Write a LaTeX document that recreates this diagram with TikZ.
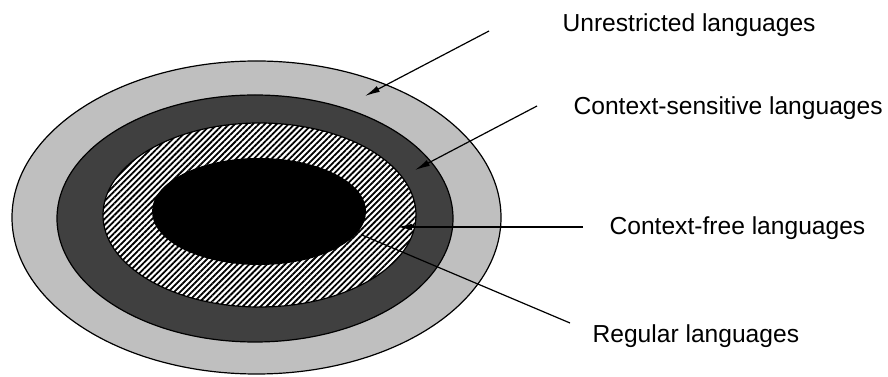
\documentclass[tikz,border=0pt]{standalone}
\usepackage{fontspec}
\setmainfont{Liberation Sans}
\usetikzlibrary{arrows.meta,patterns.meta}
\newcommand{\labelfont}{\fontsize{24.6}{29}\selectfont}

\begin{document}
\begin{tikzpicture}[x=1pt,y=1pt,line width=1.2pt,
  langlabel/.style={anchor=base west,inner sep=0pt,font=\labelfont},
  pointer/.style={-{Latex[length=15pt,width=6.5pt]}},
  hatched/.style={preaction={fill=white},pattern={Lines[angle=45,distance=4.2pt,line width=1.8pt]}}]
\useasboundingbox (0,0) rectangle (888,377);
% nested language classes
\draw[fill=black!25] (256.5,159.5) ellipse [x radius=244.5pt, y radius=156.5pt];
\draw[fill=black!75] (255,158.5) ellipse [x radius=198pt, y radius=123.5pt];
\draw[hatched] (259.5,162) ellipse [x radius=156.5pt, y radius=92pt];
\fill[black] (259,165.5) ellipse [x radius=107pt, y radius=53.5pt];
% labels
\node[langlabel] (unres) at (562,345) {Unrestricted languages};
\node[langlabel] (csens) at (573,262) {Context-sensitive languages};
\node[langlabel] (cfree) at (609,142) {Context-free languages};
\node[langlabel] (reg)   at (592,34)  {Regular languages};
\coordinate (unresfrom) at (489,346);
\coordinate (unresto)   at (365,281);
\coordinate (csensfrom) at (537,271);
\coordinate (csensto)   at (415,207);
\coordinate (cfreefrom) at (583,150);
\coordinate (cfreeto)   at (397,150);
\coordinate (regfrom)   at (362,142);
\coordinate (regto)     at (570,54);
\draw[pointer] (unresfrom) -- (unresto);
\draw[pointer] (csensfrom) -- (csensto);
\draw[pointer] (cfreefrom) -- (cfreeto);
\draw (regfrom) -- (regto);
\end{tikzpicture}
\end{document}
